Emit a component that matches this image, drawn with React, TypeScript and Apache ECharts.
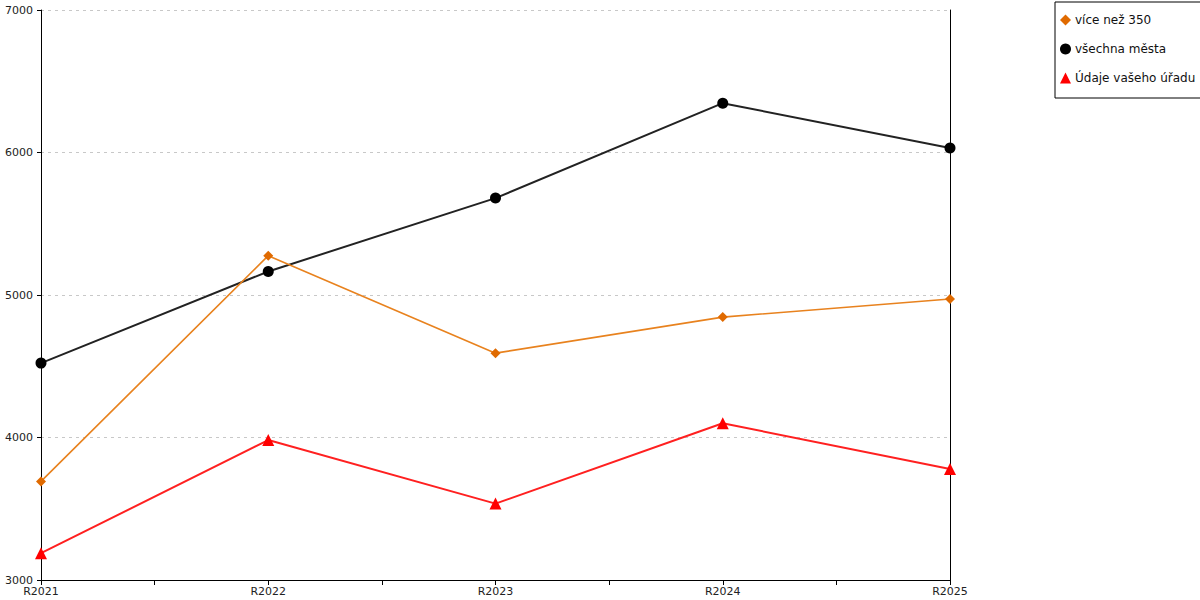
import React, { useEffect, useRef } from "react";
import * as echarts from "echarts";

const categories = ["R2021", "R2022", "R2023", "R2024", "R2025"];
const seriesNames = ["více než 350", "všechna města", "Údaje vašeho úřadu"];
const viceNez350 = [3692, 5276, 4592, 4845, 4972];
const vsechnaMesta = [4522, 5165, 5680, 6346, 6032];
const udajeUradu = [3188, 3982, 3536, 4100, 3779];
const yTicks = [3000, 4000, 5000, 6000, 7000];

const lineColors = ["#E8821E", "#222222", "#FF2020"];
const symbolColors = ["#E06A00", "#000000", "#FF0000"];
const symbols = ["diamond", "circle", "triangle"];
const symbolSizes = [10, 11, 12];
const lineWidths = [1.6, 2, 2];

export default function App() {
  const ref = useRef<HTMLDivElement>(null);
  useEffect(() => {
    document.body.style.margin = "0";
    if (!ref.current) return;
    const chart = echarts.init(ref.current, undefined, { renderer: "svg" });
    const all = [viceNez350, vsechnaMesta, udajeUradu];
    const font = "DejaVu Sans";
    chart.setOption({
      animation: false,
      textStyle: { fontFamily: font },
      grid: { left: 41, right: 250, top: 10, bottom: 20, containLabel: false },
      legend: {
        orient: "vertical",
        left: 1055,
        top: 2,
        width: 144,
        padding: [12, 14, 14, 5],
        itemGap: 17,
        itemWidth: 11,
        itemHeight: 11,
        borderColor: "#000",
        borderWidth: 1,
        textStyle: { fontFamily: font, fontSize: 12, color: "#111", padding: [0, 0, 0, -1] },
        data: seriesNames.map((n, i) => ({
          name: n,
          icon: symbols[i],
          itemStyle: { color: symbolColors[i] },
        })),
      },
      xAxis: {
        type: "value",
        min: 0,
        max: categories.length - 1,
        interval: 0.5,
        axisLine: { show: true, lineStyle: { color: "#000", width: 1 } },
        axisTick: { show: true, length: 5, lineStyle: { color: "#000" } },
        splitLine: { show: false },
        axisLabel: {
          fontFamily: font,
          fontSize: 11,
          color: "#222",
          margin: 6,
          formatter: (v: number) => (Number.isInteger(v) ? categories[v] : ""),
        },
      },
      yAxis: [
        {
          type: "value",
          min: yTicks[0],
          max: yTicks[yTicks.length - 1],
          interval: 1000,
          axisLine: { show: true, lineStyle: { color: "#000", width: 1 } },
          axisTick: { show: true, length: 4, lineStyle: { color: "#000" } },
          splitLine: { show: true, lineStyle: { color: "#c8c8c8", type: [3, 4], width: 1 } },
          axisLabel: {
            fontFamily: font,
            fontSize: 11,
            color: "#222",
            margin: 8,
            formatter: (v: number) => String(v),
          },
        },
        {
          type: "value",
          position: "right",
          min: yTicks[0],
          max: yTicks[yTicks.length - 1],
          interval: 1000,
          axisLine: { show: true, lineStyle: { color: "#000", width: 1 } },
          axisTick: { show: false },
          axisLabel: { show: false },
          splitLine: { show: false },
        },
      ],
      series: all.map((vals, i) => ({
        name: seriesNames[i],
        type: "line",
        data: vals.map((v, k) => [k, v]),
        symbol: symbols[i],
        symbolSize: symbolSizes[i],
        z: 3 - i,
        lineStyle: { color: lineColors[i], width: lineWidths[i] },
        itemStyle: { color: symbolColors[i] },
        emphasis: { disabled: true },
      })),
    });
    return () => chart.dispose();
  }, []);
  return <div ref={ref} style={{ width: 1200, height: 600 }} />;
}
